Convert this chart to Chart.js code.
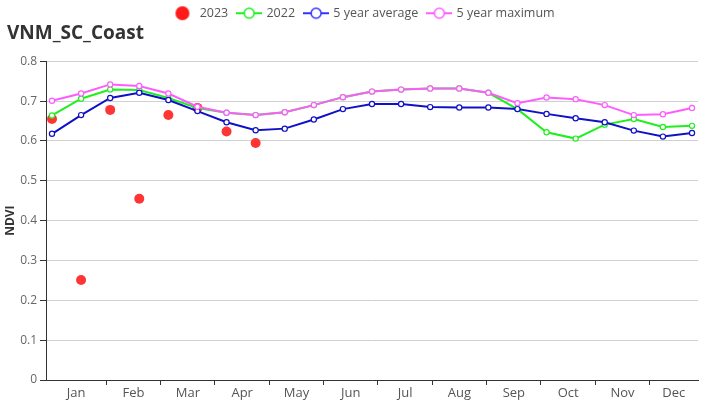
<!DOCTYPE html>
<html>
<head>
<meta charset="utf-8">
<script src="https://cdn.jsdelivr.net/npm/chart.js@4.4.1/dist/chart.umd.min.js"></script>
<style>
  body { margin: 0; background: #fff; }
  canvas { display: block; }
</style>
</head>
<body>
<canvas id="myChart" width="726" height="400"></canvas>
<script>
// month labels on the x axis
var MONTHS = ['Jan','Feb','Mar','Apr','May','Jun','Jul','Aug','Sep','Oct','Nov','Dec']
// NDVI per 16-day period (23 periods a year)
var Y2023 = [0.655, 0.251, 0.678, 0.455, 0.665, 0.683, 0.624, 0.595]
var Y2022 = [0.664, 0.706, 0.729, 0.728, 0.708, 0.683, 0.671, 0.665, 0.672, 0.690, 0.710, 0.724,
             0.729, 0.732, 0.732, 0.721, 0.680, 0.622, 0.606, 0.641, 0.655, 0.635, 0.638]
var AVG5 = [0.618, 0.665, 0.708, 0.721, 0.703, 0.675, 0.647, 0.627, 0.631, 0.654, 0.680, 0.693,
            0.693, 0.685, 0.684, 0.684, 0.680, 0.668, 0.657, 0.647, 0.626, 0.611, 0.620]
var MAX5 = [0.701, 0.719, 0.742, 0.738, 0.719, 0.686, 0.671, 0.665, 0.672, 0.690, 0.710, 0.724,
            0.729, 0.732, 0.732, 0.721, 0.695, 0.709, 0.705, 0.690, 0.665, 0.667, 0.683]

var FONT = "'Open Sans', 'Noto Sans', sans-serif"
var PAD = 0.206
var xMin = -PAD
var xMax = AVG5.length - 1 + PAD
var W = (xMax - xMin) / 12

// month boundaries and label centres
var edges = [xMin]
for (var k = 1; k < 12; k++) edges.push(k * W)
edges.push(xMax)
var mids = []
for (var m = 0; m < 12; m++) mids.push((edges[m] + edges[m + 1]) / 2)

function pts(arr){
    return arr.map(function(v, i){ return {x: i, y: v} })
}

// legend symbols
function lineSymbol(color){
    var c = document.createElement('canvas')
    c.width = 26; c.height = 14
    var g = c.getContext('2d')
    g.strokeStyle = color
    g.lineWidth = 2
    g.beginPath(); g.moveTo(0, 7); g.lineTo(26, 7); g.stroke()
    g.beginPath(); g.arc(13, 7, 5, 0, Math.PI * 2)
    g.fillStyle = '#fff'; g.fill()
    g.lineWidth = 1.5
    g.stroke()
    return c
}
function dotSymbol(color){
    var c = document.createElement('canvas')
    c.width = 26; c.height = 16
    var g = c.getContext('2d')
    g.fillStyle = color
    g.beginPath(); g.arc(13, 8, 7, 0, Math.PI * 2); g.fill()
    return c
}

var series = [
    {label: '2023', data: pts(Y2023), color: '#ff3535', sym: dotSymbol('#ff1a1a'), order: 4, dots: true},
    {label: '2022', data: pts(Y2022), color: '#1ef01e', sym: lineSymbol('#1ef01e'), order: 3},
    {label: '5 year average', data: pts(AVG5), color: '#1010c8', sym: lineSymbol('#3333ff'), order: 2},
    {label: '5 year maximum', data: pts(MAX5), color: '#ff5cff', sym: lineSymbol('#ff5cff'), order: 1}
]

var datasets = series.map(function(s){
    if (s.dots) {
        return {
            label: s.label, data: s.data, order: s.order, showLine: false,
            pointRadius: 5, pointHoverRadius: 5,
            pointBackgroundColor: s.color, pointBorderWidth: 0,
            backgroundColor: s.color, borderColor: s.color
        }
    }
    return {
        label: s.label, data: s.data, order: s.order,
        borderColor: s.color, borderWidth: 2, tension: 0,
        pointRadius: 2.6, pointBorderWidth: 1.2,
        pointBackgroundColor: '#fff', pointBorderColor: s.color,
        backgroundColor: s.color
    }
})

var ctx = document.getElementById('myChart')
var char = new Chart(ctx, {
    type: 'line',
    data: { datasets: datasets },
    options: {
        responsive: false,
        animation: false,
        layout: { padding: { top: -3, left: 7, right: 7, bottom: 0 } },
        plugins: {
            tooltip: { enabled: false },
            legend: {
                position: 'top',
                labels: {
                    usePointStyle: true,
                    pointStyleWidth: 22,
                    padding: 10,
                    color: '#555',
                    font: { family: FONT, size: 12.5 },
                    generateLabels: function(chart){
                        return series.map(function(s, i){
                            return {
                                text: s.label, pointStyle: s.sym, datasetIndex: i,
                                fillStyle: s.color, strokeStyle: s.color, lineWidth: 0,
                                fontColor: '#555', hidden: false
                            }
                        })
                    }
                }
            },
            title: {
                display: true,
                text: 'VNM_SC_Coast',
                align: 'start',
                weight: 500,
                color: '#333',
                font: { family: FONT, size: 19, weight: 'bold' },
                padding: { top: -7, bottom: 16 }
            }
        },
        scales: {
            x: {
                type: 'linear',
                position: 'bottom',
                min: xMin, max: xMax,
                afterBuildTicks: function(s){
                    s.ticks = edges.slice(1, 12).map(function(v){ return {value: v} })
                },
                afterFit: function(s){ s.height = 5 },
                ticks: { display: false },
                grid: { drawOnChartArea: false, drawTicks: true, tickLength: 5, color: '#333' },
                border: { display: true, color: '#333', width: 1 }
            },
            x2: {
                type: 'linear',
                position: 'bottom',
                min: xMin, max: xMax,
                afterBuildTicks: function(s){
                    s.ticks = mids.map(function(v){ return {value: v} })
                },
                afterFit: function(s){ s.height = 15 },
                ticks: {
                    autoSkip: false, maxRotation: 0, padding: 0,
                    color: '#555', font: { family: FONT, size: 13 },
                    callback: function(v, i){ return MONTHS[i] }
                },
                grid: { display: false, drawTicks: false },
                border: { display: false }
            },
            y: {
                min: 0, max: 0.8,
                afterFit: function(s){ s.width = 39 },
                ticks: {
                    stepSize: 0.1, padding: 3,
                    color: '#666', font: { family: FONT, size: 12 },
                    callback: function(v){ return +v.toFixed(1) }
                },
                grid: { color: '#d0d0d0', tickColor: '#333', tickLength: 6 },
                border: { display: true, color: '#333', width: 1 },
                title: {
                    display: true, text: 'NDVI', color: '#333',
                    font: { family: FONT, size: 12, weight: 'bold' },
                    padding: { top: -4, bottom: 0 }
                }
            },
            // empty right-hand scale that keeps the plot clear of the right edge
            yr: {
                type: 'linear',
                position: 'right',
                afterFit: function(s){ s.width = 21 },
                ticks: { display: false },
                grid: { display: false, drawTicks: false },
                border: { display: false }
            }
        }
    }
})
</script>
</body>
</html>
